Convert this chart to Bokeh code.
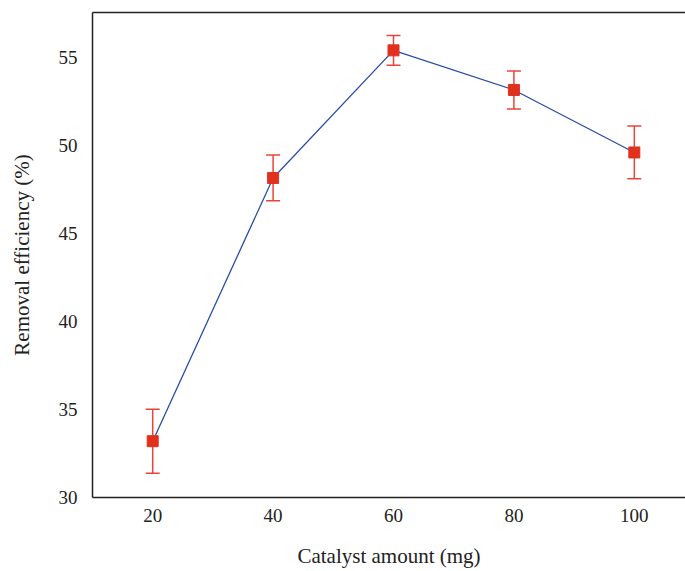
from bokeh.plotting import figure
from bokeh.models import ColumnDataSource, Whisker, LinearAxis, FixedTicker, Range1d
from bokeh.embed import file_html
from bokeh.resources import INLINE

catalyst_mg = [20, 40, 60, 80, 100]
removal_pct = [33.2, 48.15, 55.4, 53.15, 49.6]
error_pct = [1.82, 1.3, 0.85, 1.08, 1.5]
x_ticks = [20, 40, 60, 80, 100]
y_ticks = [30, 35, 40, 45, 50, 55]

upper = [v + e for v, e in zip(removal_pct, error_pct)]
lower = [v - e for v, e in zip(removal_pct, error_pct)]
src = ColumnDataSource(dict(x=catalyst_mg, y=removal_pct, upper=upper, lower=lower))

FONT = "Liberation Serif"

p = figure(width=685, height=571, output_backend="svg", toolbar_location=None,
           x_range=Range1d(10, 108.5), y_range=Range1d(30, 57.55),
           x_axis_label="Catalyst amount (mg)", y_axis_label="Removal efficiency (%)",
           min_border_left=92, min_border_right=0, min_border_top=12, min_border_bottom=74)
p.outline_line_color = None
p.grid.visible = False
p.background_fill_color = "white"
p.border_fill_color = "white"

for ax in (p.xaxis[0], p.yaxis[0]):
    ax.major_tick_line_color = None
    ax.minor_tick_line_color = None
    ax.axis_line_color = "#222222"
    ax.axis_line_width = 1.5
    ax.major_label_text_font = FONT
    ax.major_label_text_font_size = "19px"
    ax.major_label_text_color = "#222222"
    ax.axis_label_text_font = FONT
    ax.axis_label_text_font_size = "21px"
    ax.axis_label_text_font_style = "normal"
    ax.axis_label_text_color = "#222222"

p.xaxis[0].ticker = FixedTicker(ticks=x_ticks)
p.yaxis[0].ticker = FixedTicker(ticks=y_ticks)
p.xaxis[0].major_label_standoff = 5
p.xaxis[0].axis_label_standoff = 19
p.yaxis[0].major_label_standoff = 9
p.yaxis[0].axis_label_standoff = 22

top = LinearAxis(ticker=FixedTicker(ticks=[]), major_tick_line_color=None,
                 minor_tick_line_color=None, axis_line_color="#222222",
                 axis_line_width=1.5, major_label_standoff=0)
p.add_layout(top, "above")

p.line("x", "y", source=src, line_color="#2b4da6", line_width=1.3)
w = Whisker(base="x", upper="upper", lower="lower", source=src,
            line_color="#e8443a", line_width=1.5)
w.upper_head.line_color = "#e8443a"
w.lower_head.line_color = "#e8443a"
w.upper_head.line_width = 1.5
w.lower_head.line_width = 1.5
w.upper_head.size = 14
w.lower_head.size = 14
p.add_layout(w)
p.scatter("x", "y", source=src, marker="square", size=11,
          fill_color="#e0311f", line_color="#e0311f")

open("out.html", "w").write(file_html(p, INLINE))
